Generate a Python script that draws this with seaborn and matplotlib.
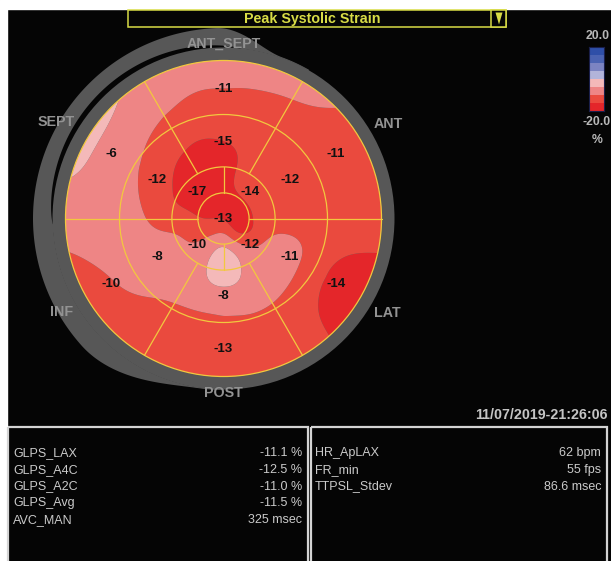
import numpy as np
import pandas as pd
import matplotlib
matplotlib.use("Agg")
import matplotlib.pyplot as plt
import seaborn as sns
from matplotlib.colors import ListedColormap
from matplotlib.patches import Rectangle, Circle, Polygon

# ----------------------------- data -----------------------------
title_text = "Peak Systolic Strain"
wall_names = ["ANT_SEPT", "ANT", "LAT", "POST", "INF", "SEPT"]
wall_angles = [90, 30, -30, -90, -150, 150]
basal_values = [-11, -11, -14, -13, -10, -6]
mid_values = [-15, -12, -11, -8, -8, -12]
apical_angles = [45, -45, -135, 135]
apical_values = [-14, -12, -10, -17]
apex_value = -13

# strain map (rows: radius fraction, cols: angle in degrees)
map_radii = [0.12, 0.24, 0.37, 0.49, 0.62, 0.75, 0.87, 0.97]
map_angles = [0, 30, 60, 90, 120, 150, 180, 210, 240, 270, 300, 330]
map_strain = [
    [-17.5, -17.5, -17.5, -17.5, -17.5, -17.5, -15.0, -12.5, -10.0, -7.5, -12.5, -17.5],
    [-12.5, -12.5, -12.5, -17.5, -17.5, -17.5, -12.5, -11.0, -7.5, -2.5, -7.5, -12.5],
    [-12.5, -12.5, -12.5, -17.5, -17.5, -15.0, -12.5, -7.5, -7.5, -2.5, -7.5, -7.5],
    [-12.5, -12.5, -12.5, -15.0, -15.0, -12.5, -10.0, -7.5, -7.5, -7.5, -7.5, -7.5],
    [-12.5, -12.5, -12.5, -12.5, -12.5, -10.0, -7.5, -7.5, -10.0, -10.0, -10.0, -12.5],
    [-12.5, -12.5, -12.5, -13.0, -10.0, -7.5, -7.5, -9.0, -12.5, -12.5, -12.5, -15.0],
    [-12.5, -12.5, -10.0, -8.0, -7.5, -7.0, -7.5, -11.5, -12.5, -12.5, -12.5, -17.5],
    [-12.5, -12.5, -7.5, -7.5, -7.0, -3.5, -8.0, -12.5, -12.5, -12.5, -12.5, -17.5],
]
map_center = -15.0

scale_levels = [-20, -15, -10, -5, 0, 5, 10, 15, 20]
scale_colors = ["#e4262a", "#ea4a3e", "#ee8585", "#f4b9b9",
                "#b2b4da", "#7c84c2", "#4b63b2", "#2f4fa8"]
scale_top, scale_bottom, scale_unit = "20.0", "-20.0", "%"

timestamp = "11/07/2019-21:26:06"
left_names = ["GLPS_LAX", "GLPS_A4C", "GLPS_A2C", "GLPS_Avg", "AVC_MAN"]
left_values = ["-11.1 %", "-12.5 %", "-11.0 %", "-11.5 %", "325 msec"]
right_names = ["HR_ApLAX", "FR_min", "TTPSL_Stdev"]
right_values = ["62 bpm", "55 fps", "86.6 msec"]

# ----------------------------- style -----------------------------
sns.set_theme(style="dark", rc={"figure.facecolor": "#050505", "axes.facecolor": "#050505"})
plt.rcParams["font.family"] = ["Liberation Sans", "DejaVu Sans"]

W, H = 611, 561
fig = plt.figure(figsize=(W / 100, H / 100), dpi=100)
fig.patch.set_facecolor("#050505")
ax = fig.add_axes([0, 0, 1, 1])
ax.set_xlim(0, W)
ax.set_ylim(H, 0)
ax.axis("off")

# white border strips of the screenshot
ax.add_patch(Rectangle((0, 0), W, 8.5, color="white", zorder=1))
ax.add_patch(Rectangle((0, 0), 7, H, color="white", zorder=1))

cx, cy, R = 223.5, 218.5, 158.0
ring_gray = "#575757"
line_col = "#f2c83e"
yellow = "#d8dc46"


def pt(r, deg):
    a = np.radians(deg)
    return cx + r * np.cos(a), cy - r * np.sin(a)


def smooth_ramp(d, a, b):
    t = np.clip((d - a) / (b - a), 0, 1)
    return t * t * (3 - 2 * t)


# gray main ring
ax.add_patch(Circle((cx, cy), 171, color=ring_gray, lw=0, zorder=2))
# offset gray arc on the septal side, separated by a thin tapering black gap
adeg = np.linspace(60, 270, 841)
r_outer = 171.5 + 19 * (smooth_ramp(adeg, 70, 92) - smooth_ramp(adeg, 222, 262))
gap = np.where((adeg > 84) & (adeg < 182),
               5.8 * np.abs(np.sin(np.pi * (adeg - 84) / 98)) ** 0.55, 0.0)
r_inner = 170.5 + gap
xa, ya = pt(r_outer, adeg)
xb, yb = pt(r_inner[::-1], adeg[::-1])
ax.add_patch(Polygon(np.column_stack([np.r_[xa, xb], np.r_[ya, yb]]), closed=True,
                     fc=ring_gray, ec="none", lw=0, zorder=2))


# strain field (thin-plate spline through the map samples)
def kern(d):
    with np.errstate(divide="ignore", invalid="ignore"):
        k = d ** 2 * np.log(d)
    return np.nan_to_num(k)


rr, aa = np.meshgrid(map_radii, np.radians(map_angles), indexing="ij")
xn = np.r_[0.0, (rr * np.cos(aa)).ravel()]
yn = np.r_[0.0, (rr * np.sin(aa)).ravel()]
zn = np.r_[map_center, np.array(map_strain).ravel()]
n = len(xn)
A = np.zeros((n + 3, n + 3))
A[:n, :n] = kern(np.hypot(xn[:, None] - xn[None, :], yn[:, None] - yn[None, :])) + 0.002 * np.eye(n)
P = np.column_stack([np.ones(n), xn, yn])
A[:n, n:] = P
A[n:, :n] = P.T
sol = np.linalg.solve(A, np.r_[zn, np.zeros(3)])
wts, coef = sol[:n], sol[n:]

g = np.linspace(-1.01, 1.01, 241)
U, V = np.meshgrid(g, g)
dq = np.hypot(U.ravel()[:, None] - xn[None, :], V.ravel()[:, None] - yn[None, :])
Z = (kern(dq) @ wts + coef[0] + coef[1] * U.ravel() + coef[2] * V.ravel()).reshape(U.shape)
Z = np.clip(Z, -19.9, -0.1)

cf = ax.contourf(cx + R * U, cy - R * V, Z, levels=scale_levels, colors=scale_colors,
                 antialiased=True, zorder=3)
cf.set_clip_path(Circle((cx, cy), R, transform=ax.transData))

# segment grid
ring_fracs = [1.0, 104 / 158, 51.6 / 158, 25.6 / 158]
for f in ring_fracs:
    ax.add_patch(Circle((cx, cy), R * f, fill=False, ec=line_col, lw=0.9, zorder=5))
for a in [0, 60, 120, 180, 240, 300]:
    xs, ys = pt(np.array([R * ring_fracs[2], R]), a)
    ax.plot(xs, ys, color=line_col, lw=0.9, zorder=5)
for a in [0, 90, 180, 270]:
    xs, ys = pt(np.array([R * ring_fracs[3], R * ring_fracs[2]]), a)
    ax.plot(xs, ys, color=line_col, lw=0.9, zorder=5)

# segment values
seg_kw = dict(ha="center", va="center", fontsize=9.5, fontweight="bold", color="#111111", zorder=6)
for a, v in zip(wall_angles, basal_values):
    ax.text(*pt(130, a), f"{v}", **seg_kw)
for a, v in zip(wall_angles, mid_values):
    ax.text(*pt(77, a), f"{v}", **seg_kw)
for a, v in zip(apical_angles, apical_values):
    ax.text(*pt(37, a), f"{v}", **seg_kw)
ax.text(cx, cy + 0.5, f"{apex_value}", **seg_kw)

# wall names
wall_r = [174.5, 190, 189, 174.5, 187, 193]
for name, a, r in zip(wall_names, wall_angles, wall_r):
    ax.text(*pt(r, a), name, ha="center", va="center", fontsize=10.3,
            fontweight="bold", color="#939393", zorder=6)

# title box
ax.add_patch(Rectangle((128, 9.5), 378, 17.5, fc="#050505", ec=yellow, lw=1.1, zorder=4))
ax.add_patch(Rectangle((491, 9.5), 15, 17.5, fc="#050505", ec=yellow, lw=1.1, zorder=4))
ax.add_patch(Polygon([(495.5, 12.5), (502.5, 12.5), (499, 24.5)], closed=True,
                     color=yellow, lw=0, zorder=5))
ax.text(312, 18.5, title_text, ha="center", va="center", fontsize=10.3,
        fontweight="bold", color=yellow, zorder=6)

# colour scale (seaborn heatmap)
cax = fig.add_axes([589 / W, 1 - 111 / H, 15 / W, 64.5 / H])
mids = [(a + b) / 2 for a, b in zip(scale_levels[:-1], scale_levels[1:])][::-1]
sns.heatmap(pd.DataFrame({"strain": mids}), ax=cax, cmap=ListedColormap(scale_colors),
            vmin=scale_levels[0], vmax=scale_levels[-1], cbar=False,
            xticklabels=False, yticklabels=False, linewidths=0)
for s in cax.spines.values():
    s.set_visible(True)
    s.set_color("#1a1f4a")
    s.set_linewidth(0.8)
lab_kw = dict(ha="center", va="center", fontsize=8.8, fontweight="bold", color="#b8b8b8")
ax.text(597.5, 35.5, scale_top, **lab_kw)
ax.text(596.5, 122, scale_bottom, **lab_kw)
ax.text(597.5, 140, scale_unit, **lab_kw)

# timestamp
ax.text(608, 415, timestamp, ha="right", va="center", fontsize=10.3,
        fontweight="bold", color="#c4c4c4")

# measurement boxes
ax.add_patch(Rectangle((8, 427), 300, 150, fill=False, ec="#d4d4d4", lw=1.6, zorder=4))
ax.add_patch(Rectangle((311, 427), 296, 150, fill=False, ec="#d4d4d4", lw=1.6, zorder=4))
tab_kw = dict(va="center", fontsize=9.0, color="#cacaca")
for i, (nm, val) in enumerate(zip(left_names, left_values)):
    y = 453 + 16.75 * i
    ax.text(13, y, nm, ha="left", **tab_kw)
    ax.text(302, y, val, ha="right", **tab_kw)
for i, (nm, val) in enumerate(zip(right_names, right_values)):
    y = 453 + 16.75 * i
    ax.text(315, y, nm, ha="left", **tab_kw)
    ax.text(601, y, val, ha="right", **tab_kw)

fig.savefig("out.png", dpi=100, facecolor=fig.get_facecolor())
